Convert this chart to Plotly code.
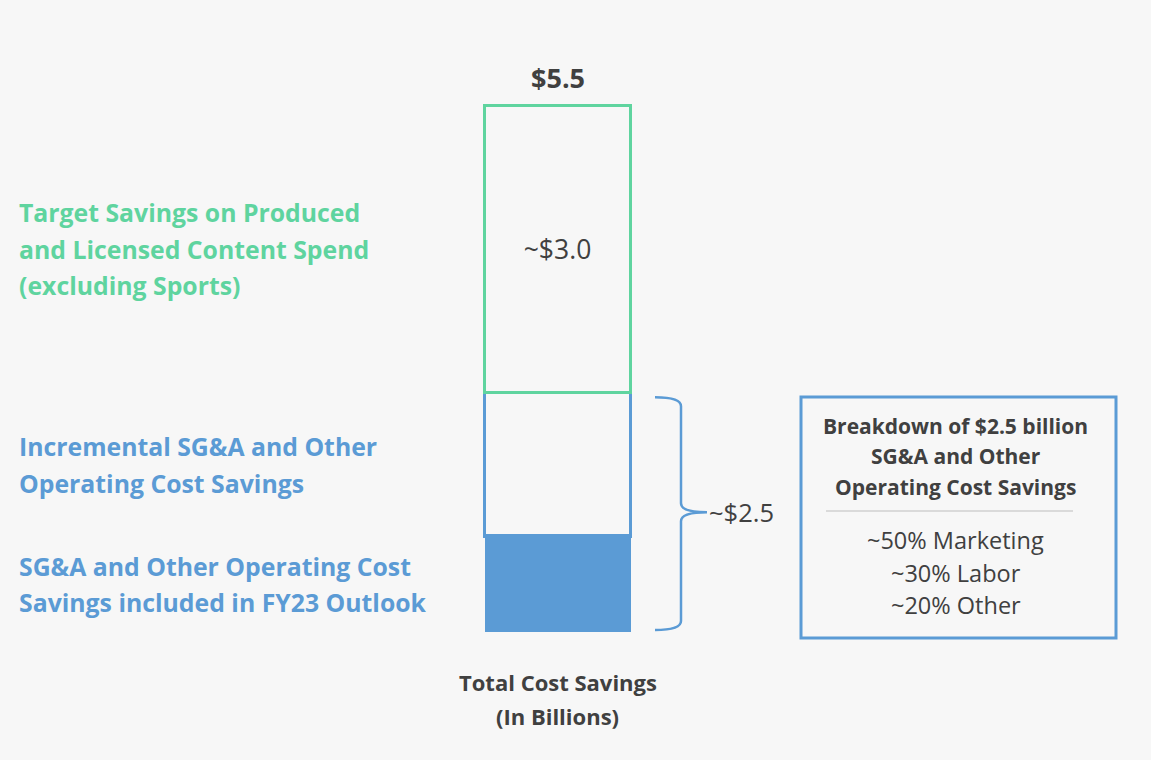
import plotly.graph_objects as go

# ---------------- data ----------------
categories = [0]  # single stacked bar: "Total Cost Savings (In Billions)"
segment_values = [1.0, 1.5, 3.0]          # bottom -> top, $ billions
segment_text = ["", "", "~$3.0"]
total_label = "$5.5"
sga_label = "~$2.5"
label_lines = [
    ["SG&A and Other Operating Cost", "Savings included in FY23 Outlook"],
    ["Incremental SG&A and Other", "Operating Cost Savings"],
    ["Target Savings on Produced", "and Licensed Content Spend", "(excluding Sports)"],
]
axis_title_lines = ["Total Cost Savings", "(In Billions)"]
breakdown_title = ["Breakdown of $2.5 billion", "SG&A and Other", "Operating Cost Savings"]
breakdown_items = ["~50% Marketing", "~30% Labor", "~20% Other"]

# ---------------- style ----------------
W, H = 1151, 760
BG = "#f7f7f7"
BLUE = "#5b9bd5"
GREEN = "#5fd49f"
DARK = "#404040"
FONT = "Open Sans"

# layout geometry (pixels)
bar_cx, bar_wpx = 557.5, 146.0
y0_px, ypp = 632.0, (632.0 - 105.0) / 5.5
x_range = [-bar_cx / bar_wpx, (W - bar_cx) / bar_wpx]
y_range = [-(H - y0_px) / ypp, y0_px / ypp]


def xd(px):
    return (px - bar_cx) / bar_wpx


fig = go.Figure()

fills = [BLUE, "rgba(0,0,0,0)", "rgba(0,0,0,0)"]
lines = [BLUE, BLUE, GREEN]
widths = [0, 3.5, 3]
for i, v in enumerate(segment_values):
    fig.add_trace(go.Bar(
        x=categories, y=[v], width=1,
        marker=dict(color=fills[i], line=dict(color=lines[i], width=widths[i])),
        text=[segment_text[i]], textposition="inside", insidetextanchor="middle",
        textfont=dict(family=FONT, size=26.5, color=DARK),
        hoverinfo="skip", showlegend=False,
    ))

total = sum(segment_values)
sga_total = segment_values[0] + segment_values[1]

ann = []
# total label above bar
ann.append(dict(x=categories[0], y=total, text=f"<b>{total_label}</b>", showarrow=False,
                yanchor="middle", yshift=28, font=dict(family=FONT, size=27, color=DARK)))

# left-side labels centred on their segments
colors = [BLUE, BLUE, GREEN]
cum = 0
for i, v in enumerate(segment_values):
    mid = cum + v / 2
    cum += v
    n = len(label_lines[i])
    for j, t in enumerate(label_lines[i]):
        ann.append(dict(x=17 / W, xref="paper", y=mid, yref="y", text=f"<b>{t}</b>",
                        showarrow=False, xanchor="left", yanchor="middle",
                        yshift=-(j - (n - 1) / 2) * 36.5,
                        font=dict(family=FONT, size=24.8, color=colors[i])))

# brace around SG&A segments
xa, xb, xt = xd(655), xd(681), xd(707)
pad_lo, pad_hi = 0.02, 0.05
ylo, yhi = 0 + pad_lo, sga_total - pad_hi
ymid = sga_total / 2
r = 9 / ypp
brace = (f"M {xa},{yhi} Q {xb},{yhi} {xb},{yhi - r} L {xb},{ymid + r} "
         f"Q {xb},{ymid} {xt},{ymid} Q {xb},{ymid} {xb},{ymid - r} "
         f"L {xb},{ylo + r} Q {xb},{ylo} {xa},{ylo}")
shapes = [dict(type="path", path=brace, xref="x", yref="y",
               line=dict(color=BLUE, width=2.5))]
ann.append(dict(x=xt, y=ymid, text=sga_label, showarrow=False, xanchor="left",
                yanchor="middle", xshift=0, font=dict(family=FONT, size=25.5, color=DARK)))

# axis title under bar
for j, t in enumerate(axis_title_lines):
    ann.append(dict(x=categories[0], y=0, text=f"<b>{t}</b>", showarrow=False,
                    yanchor="middle", yshift=-(50 + 34 * j),
                    font=dict(family=FONT, size=22, color=DARK)))

# breakdown box
bx0, bx1, by0, by1 = 801, 1116, 397, 638
shapes.append(dict(type="rect", xref="paper", yref="paper",
                   x0=bx0 / W, x1=bx1 / W, y0=1 - by1 / H, y1=1 - by0 / H,
                   line=dict(color=BLUE, width=3), fillcolor="rgba(0,0,0,0)"))
shapes.append(dict(type="line", xref="paper", yref="paper",
                   x0=826 / W, x1=1073 / W, y0=1 - 511 / H, y1=1 - 511 / H,
                   line=dict(color="#d0d0d0", width=1.5)))
bcx = 955.5 / W
for j, t in enumerate(breakdown_title):
    ann.append(dict(x=bcx, xref="paper", y=1 - (426 + 30.5 * j) / H, yref="paper",
                    text=f"<b>{t}</b>", showarrow=False, xanchor="center", yanchor="middle",
                    font=dict(family=FONT, size=21, color=DARK)))
for j, t in enumerate(breakdown_items):
    ann.append(dict(x=bcx, xref="paper", y=1 - (540 + 32.5 * j) / H, yref="paper",
                    text=t, showarrow=False, xanchor="center", yanchor="middle",
                    font=dict(family=FONT, size=23.5, color=DARK)))

fig.update_layout(
    width=W, height=H, margin=dict(l=0, r=0, t=0, b=0),
    paper_bgcolor=BG, plot_bgcolor=BG, barmode="stack",
    xaxis=dict(visible=False, range=x_range, fixedrange=True),
    yaxis=dict(visible=False, range=y_range, fixedrange=True),
    annotations=ann, shapes=shapes, showlegend=False,
)

fig.write_html("out.html")
